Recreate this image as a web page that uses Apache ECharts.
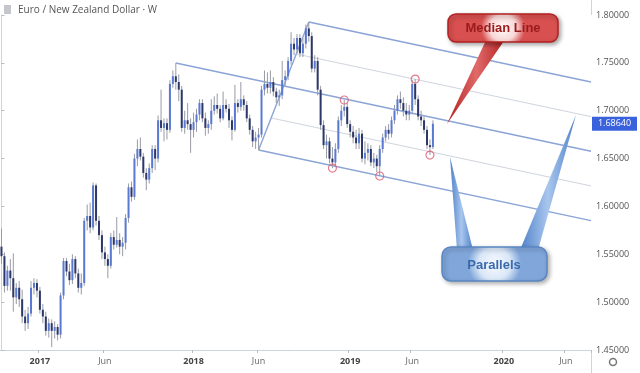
<!DOCTYPE html>
<html>
<head>
<meta charset="utf-8">
<script src="https://cdn.jsdelivr.net/npm/echarts@6/dist/echarts.min.js"></script>
<style>html,body{margin:0;padding:0;background:#fff}#c{width:640px;height:373px}</style>
</head>
<body>
<div id="c"></div>
<script>
// Weekly EUR/NZD candles: [open, close, low, high]
var ohlc = [
[1.558,1.548,1.540,1.577],[1.548,1.517,1.510,1.552],[1.517,1.533,1.512,1.538],[1.533,1.525,1.512,1.545],
[1.525,1.505,1.490,1.551],[1.505,1.515,1.498,1.520],[1.515,1.503,1.495,1.522],[1.503,1.485,1.478,1.513],
[1.485,1.478,1.470,1.492],[1.478,1.488,1.472,1.495],[1.488,1.515,1.485,1.522],[1.515,1.520,1.508,1.525],
[1.520,1.512,1.505,1.524],[1.512,1.492,1.488,1.516],[1.492,1.485,1.478,1.498],[1.485,1.470,1.465,1.490],
[1.470,1.478,1.463,1.483],[1.478,1.470,1.453,1.482],[1.470,1.474,1.462,1.480],[1.474,1.466,1.460,1.477],
[1.466,1.507,1.462,1.510],[1.507,1.543,1.503,1.546],[1.543,1.532,1.527,1.546],[1.532,1.523,1.518,1.540],
[1.523,1.545,1.519,1.550],[1.545,1.530,1.525,1.548],[1.530,1.515,1.510,1.535],[1.515,1.520,1.508,1.530],
[1.520,1.585,1.517,1.588],[1.585,1.590,1.575,1.602],[1.590,1.578,1.572,1.604],[1.578,1.622,1.575,1.625],
[1.622,1.585,1.580,1.624],[1.585,1.570,1.565,1.590],[1.570,1.552,1.545,1.575],[1.552,1.545,1.538,1.558],
[1.545,1.538,1.525,1.550],[1.538,1.568,1.535,1.572],[1.568,1.560,1.555,1.575],[1.560,1.565,1.557,1.589],
[1.565,1.558,1.550,1.572],[1.558,1.562,1.548,1.568],[1.562,1.588,1.555,1.592],[1.588,1.620,1.583,1.624],
[1.620,1.610,1.605,1.626],[1.610,1.650,1.607,1.655],[1.650,1.660,1.642,1.670],[1.660,1.652,1.648,1.672],
[1.652,1.635,1.630,1.656],[1.635,1.628,1.617,1.640],[1.628,1.640,1.624,1.645],[1.640,1.660,1.635,1.664],
[1.660,1.650,1.638,1.664],[1.650,1.690,1.646,1.695],[1.690,1.682,1.678,1.722],[1.682,1.687,1.668,1.692],
[1.687,1.680,1.670,1.692],[1.680,1.728,1.677,1.732],[1.728,1.736,1.724,1.742],[1.736,1.730,1.722,1.7498],
[1.730,1.722,1.710,1.738],[1.722,1.682,1.678,1.726],[1.682,1.690,1.676,1.700],[1.690,1.686,1.680,1.708],
[1.686,1.680,1.656,1.692],[1.680,1.688,1.672,1.698],[1.688,1.696,1.678,1.702],[1.696,1.708,1.690,1.712],
[1.708,1.692,1.688,1.712],[1.692,1.682,1.674,1.698],[1.682,1.686,1.676,1.690],[1.686,1.700,1.680,1.712],
[1.700,1.706,1.696,1.715],[1.706,1.702,1.697,1.718],[1.702,1.692,1.688,1.706],[1.692,1.706,1.690,1.720],
[1.706,1.702,1.698,1.712],[1.702,1.690,1.682,1.707],[1.690,1.680,1.669,1.694],[1.680,1.708,1.678,1.727],
[1.708,1.704,1.698,1.712],[1.704,1.712,1.700,1.730],[1.712,1.706,1.700,1.716],[1.706,1.692,1.688,1.710],
[1.692,1.680,1.675,1.696],[1.680,1.668,1.662,1.684],[1.668,1.672,1.660,1.678],[1.672,1.675,1.659,1.682],
[1.675,1.722,1.672,1.726],[1.722,1.728,1.716,1.742],[1.728,1.724,1.718,1.740],[1.724,1.730,1.718,1.742],
[1.730,1.720,1.715,1.735],[1.720,1.714,1.708,1.724],[1.714,1.716,1.705,1.722],[1.716,1.732,1.712,1.752],
[1.732,1.736,1.726,1.742],[1.736,1.752,1.732,1.756],[1.752,1.770,1.748,1.782],[1.770,1.764,1.758,1.776],
[1.764,1.776,1.760,1.780],[1.776,1.760,1.756,1.780],[1.760,1.770,1.756,1.776],[1.770,1.786,1.765,1.790],
[1.786,1.778,1.772,1.7927],[1.778,1.744,1.740,1.782],[1.744,1.752,1.740,1.758],[1.752,1.722,1.716,1.756],
[1.722,1.685,1.680,1.726],[1.685,1.664,1.660,1.690],[1.664,1.668,1.650,1.675],[1.668,1.650,1.645,1.672],
[1.650,1.646,1.640,1.662],[1.646,1.660,1.642,1.666],[1.660,1.690,1.656,1.694],[1.690,1.700,1.684,1.706],
[1.700,1.704,1.694,1.7112],[1.704,1.686,1.682,1.708],[1.686,1.678,1.672,1.690],[1.678,1.672,1.666,1.684],
[1.672,1.666,1.660,1.680],[1.666,1.676,1.660,1.682],[1.676,1.650,1.646,1.680],[1.650,1.656,1.644,1.668],
[1.656,1.660,1.648,1.666],[1.660,1.646,1.642,1.664],[1.646,1.650,1.640,1.656],[1.650,1.642,1.636,1.654],
[1.642,1.660,1.6318,1.664],[1.660,1.672,1.656,1.676],[1.672,1.680,1.668,1.684],[1.680,1.676,1.670,1.686],
[1.676,1.690,1.672,1.694],[1.690,1.700,1.686,1.706],[1.700,1.712,1.696,1.716],[1.712,1.708,1.702,1.720],
[1.708,1.700,1.694,1.714],[1.700,1.696,1.690,1.708],[1.696,1.700,1.690,1.706],[1.700,1.728,1.696,1.732],
[1.728,1.712,1.706,1.7331],[1.712,1.694,1.690,1.716],[1.694,1.690,1.684,1.700],[1.690,1.680,1.676,1.694],
[1.680,1.664,1.660,1.684],[1.664,1.662,1.6537,1.670],[1.662,1.6864,1.660,1.690]
];
var firstWeek = '2016-10-03';
var weekCount = 200;
var xTickDates = ['2017-01-02','2017-06-05','2018-01-01','2018-06-04','2019-01-07','2019-06-03','2020-01-06','2020-06-01'];
var xTickLabels = ['2017','Jun','2018','Jun','2019','Jun','2020','Jun'];
var yTicks = [1.45, 1.50, 1.55, 1.60, 1.65, 1.70, 1.75, 1.80];
// Andrews' pitchfork pivots: [week index, price]
var pivotA = [59, 1.7498];
var pivotB = [104, 1.7927];
var pivotC = [87, 1.6590];
// touch points marked with circles: [week index, price]
var touches = [[112, 1.6401], [116, 1.7112], [128, 1.6318], [140, 1.7331], [145, 1.6537]];

// weekly category labels
var weeks = [];
(function () {
  var p = firstWeek.split('-');
  var t = Date.UTC(+p[0], +p[1] - 1, +p[2]);
  for (var i = 0; i < weekCount; i++) {
    var d = new Date(t + i * 7 * 86400000);
    weeks.push(d.getUTCFullYear() + '-' + String(d.getUTCMonth() + 1).padStart(2, '0') + '-' + String(d.getUTCDate()).padStart(2, '0'));
  }
})();

var upColor = '#5a79d2', downColor = '#2e3868', wickColor = '#989ba6';
var lastClose = ohlc[ohlc.length - 1][1];

var xEnd = weekCount - 0.5;
var M = [(pivotB[0] + pivotC[0]) / 2, (pivotB[1] + pivotC[1]) / 2];
var slope = (M[1] - pivotA[1]) / (M[0] - pivotA[0]);
function ext(p) { return [p, [xEnd, p[1] + slope * (xEnd - p[0])]]; }
function lerp(t) { return [pivotB[0] + t * (pivotC[0] - pivotB[0]), pivotB[1] + t * (pivotC[1] - pivotB[1])]; }

var mainLine = { color: '#8aa4d6', width: 1.4 };
var quarterLine = { color: '#cfd4de', width: 1 };
function lineSeries(data, style, extra) {
  var s = {
    type: 'line', xAxisIndex: 1, yAxisIndex: 0, data: data, symbol: 'none', silent: true,
    lineStyle: style, z: 3, animation: false
  };
  if (extra) for (var k in extra) s[k] = extra[k];
  return s;
}

var chart = echarts.init(document.getElementById('c'), null, { renderer: 'canvas' });
var font = 'Open Sans';
var tailRed = new echarts.graphic.LinearGradient(0, 0, 1, 0, [{ offset: 0, color: '#b3201f' }, { offset: 0.5, color: '#e06a6a' }, { offset: 1, color: '#b3201f' }]);
var tailBlue = new echarts.graphic.LinearGradient(0, 0, 1, 0, [{ offset: 0, color: '#4f82c8' }, { offset: 0.5, color: '#a9c6ee' }, { offset: 1, color: '#4f82c8' }]);
var graphics = [
  { type: 'line', shape: { x1: 591.5, y1: 0, x2: 591.5, y2: 15 }, style: { stroke: '#cfd3da', lineWidth: 1 }, silent: true },
  { type: 'line', shape: { x1: 591.5, y1: 350, x2: 591.5, y2: 373 }, style: { stroke: '#cfd3da', lineWidth: 1 }, silent: true },
  { type: 'rect', shape: { x: 4, y: 5, width: 7, height: 9 }, style: { fill: '#c4c6cc' }, silent: true },
  { type: 'text', x: 18, y: 10, style: { text: 'Euro / New Zealand Dollar · W', fill: '#555', font: '10px "Open Sans"', verticalAlign: 'middle', textVerticalAlign: 'middle' }, silent: true },
  { type: 'circle', shape: { cx: 613, cy: 362, r: 3.5 }, style: { fill: 'none', stroke: '#777', lineWidth: 1.5 }, silent: true },
  { type: 'polygon', shape: { points: [[487, 38], [506, 38], [447, 124]] }, z: 20, style: { fill: tailRed }, silent: true },
  { type: 'rect', shape: { x: 448, y: 14, width: 110, height: 28, r: 8 }, z: 21,
    style: { fill: new echarts.graphic.RadialGradient(0.5, 0.5, 0.75, [{ offset: 0, color: '#fffafa' }, { offset: 0.6, color: '#f8d6d6' }, { offset: 1, color: '#d85050' }]),
      stroke: '#b3201f', lineWidth: 1.5, shadowBlur: 4, shadowOffsetX: 2, shadowOffsetY: 2, shadowColor: 'rgba(0,0,0,0.35)' }, silent: true },
  { type: 'text', x: 503, y: 28, z: 22, style: { text: 'Median Line', fill: '#9b1b1b', font: 'bold 13px "Liberation Sans"', align: 'center', verticalAlign: 'middle', textAlign: 'center', textVerticalAlign: 'middle' }, silent: true },
  { type: 'polygon', shape: { points: [[457, 250], [473, 250], [450, 157]] }, z: 20, style: { fill: tailBlue }, silent: true },
  { type: 'polygon', shape: { points: [[520, 250], [538, 250], [576, 115]] }, z: 20, style: { fill: tailBlue }, silent: true },
  { type: 'rect', shape: { x: 442, y: 247, width: 105, height: 34, r: 9 }, z: 21,
    style: { fill: new echarts.graphic.RadialGradient(0.5, 0.5, 0.75, [{ offset: 0, color: '#f7faff' }, { offset: 0.6, color: '#dae7f7' }, { offset: 1, color: '#80a6da' }]),
      stroke: '#5a86c2', lineWidth: 1.5, shadowBlur: 4, shadowOffsetX: 2, shadowOffsetY: 2, shadowColor: 'rgba(0,0,0,0.3)' }, silent: true },
  { type: 'text', x: 494, y: 265, z: 22, style: { text: 'Parallels', fill: '#3a6aac', font: 'bold 13px "Liberation Sans"', align: 'center', verticalAlign: 'middle', textAlign: 'center', textVerticalAlign: 'middle' }, silent: true }
];

chart.setOption({
  animation: false,
  backgroundColor: '#ffffff',
  grid: { left: 0, right: 49, top: 15, bottom: 23 },
  xAxis: [{
    type: 'category', data: weeks, boundaryGap: true,
    axisLine: { show: true, lineStyle: { color: '#cfd3da' } },
    axisTick: { show: true, length: 3, lineStyle: { color: '#b8bcc4' },
      interval: function (i, v) { return xTickDates.indexOf(v) >= 0; } },
    axisLabel: {
      interval: function (i, v) { return xTickDates.indexOf(v) >= 0; },
      formatter: function (v) {
        var t = xTickLabels[xTickDates.indexOf(v)];
        return t === 'Jun' ? '{m|' + t + '}' : '{y|' + t + '}';
      },
      margin: 7,
      rich: {
        y: { fontSize: 9, color: '#444', fontWeight: 'bold', fontFamily: font },
        m: { fontSize: 9, color: '#666', fontFamily: font }
      }
    },
    splitLine: { show: false }
  }, {
    type: 'value', min: -0.5, max: xEnd, show: false
  }],
  yAxis: [{
    type: 'value', position: 'right', min: yTicks[0], max: yTicks[yTicks.length - 1], interval: 0.05,
    axisLine: { show: true, lineStyle: { color: '#cfd3da' } },
    axisTick: { show: true, length: 3, lineStyle: { color: '#b8bcc4' } },
    axisLabel: { fontSize: 9, color: '#555', fontFamily: font, margin: 5,
      formatter: function (v) { return v.toFixed(5); } },
    splitLine: { show: false }
  }],
  graphic: graphics,
  series: [
    lineSeries(ext(pivotA), mainLine),
    lineSeries(ext(pivotB), mainLine),
    lineSeries(ext(pivotC), mainLine),
    lineSeries([pivotB, pivotC], mainLine),
    lineSeries(ext(lerp(0.25)), quarterLine, { z: 2 }),
    lineSeries(ext(lerp(0.75)), quarterLine, { z: 2 }),
    {
      type: 'custom', xAxisIndex: 0, yAxisIndex: 0, z: 4, animation: false,
      data: ohlc.map(function (d, i) { return [i, d[0], d[1], d[2], d[3]]; }),
      encode: { x: 0, y: [1, 2, 3, 4] },
      renderItem: function (params, api) {
        var idx = api.value(0), o = api.value(1), c = api.value(2), l = api.value(3), h = api.value(4);
        var top = api.coord([idx, Math.max(o, c)]);
        var bot = api.coord([idx, Math.min(o, c)]);
        var hi = api.coord([idx, h]);
        var lo = api.coord([idx, l]);
        var w = api.size([1, 0])[0] * 0.68;
        var up = c >= o;
        return { type: 'group', children: [
          { type: 'line', shape: { x1: hi[0], y1: hi[1], x2: lo[0], y2: lo[1] }, style: { stroke: wickColor, lineWidth: 1 } },
          { type: 'rect', shape: { x: top[0] - w / 2, y: top[1], width: w, height: Math.max(1, bot[1] - top[1]) }, style: { fill: up ? upColor : downColor } }
        ] };
      }
    },
    {
      type: 'scatter', xAxisIndex: 1, yAxisIndex: 0, data: touches, symbol: 'circle', symbolSize: 8, z: 6,
      silent: true, animation: false,
      itemStyle: { color: 'rgba(255,255,255,0)', borderColor: '#e05a72', borderWidth: 1.2 }
    }
  ]
});

// last-price tag on the price axis, placed through the axis scale
var py = chart.convertToPixel({ yAxisIndex: 0 }, lastClose);
graphics.push(
  { type: 'rect', shape: { x: 592, y: py - 7, width: 45, height: 14 }, z: 30, style: { fill: '#3a62dc' }, silent: true },
  { type: 'text', x: 614.5, y: py, z: 31, style: { text: lastClose.toFixed(5), fill: '#fff', font: '9px "Open Sans"', align: 'center', verticalAlign: 'middle', textAlign: 'center', textVerticalAlign: 'middle' }, silent: true }
);
chart.setOption({ graphic: graphics });
</script>
</body>
</html>
